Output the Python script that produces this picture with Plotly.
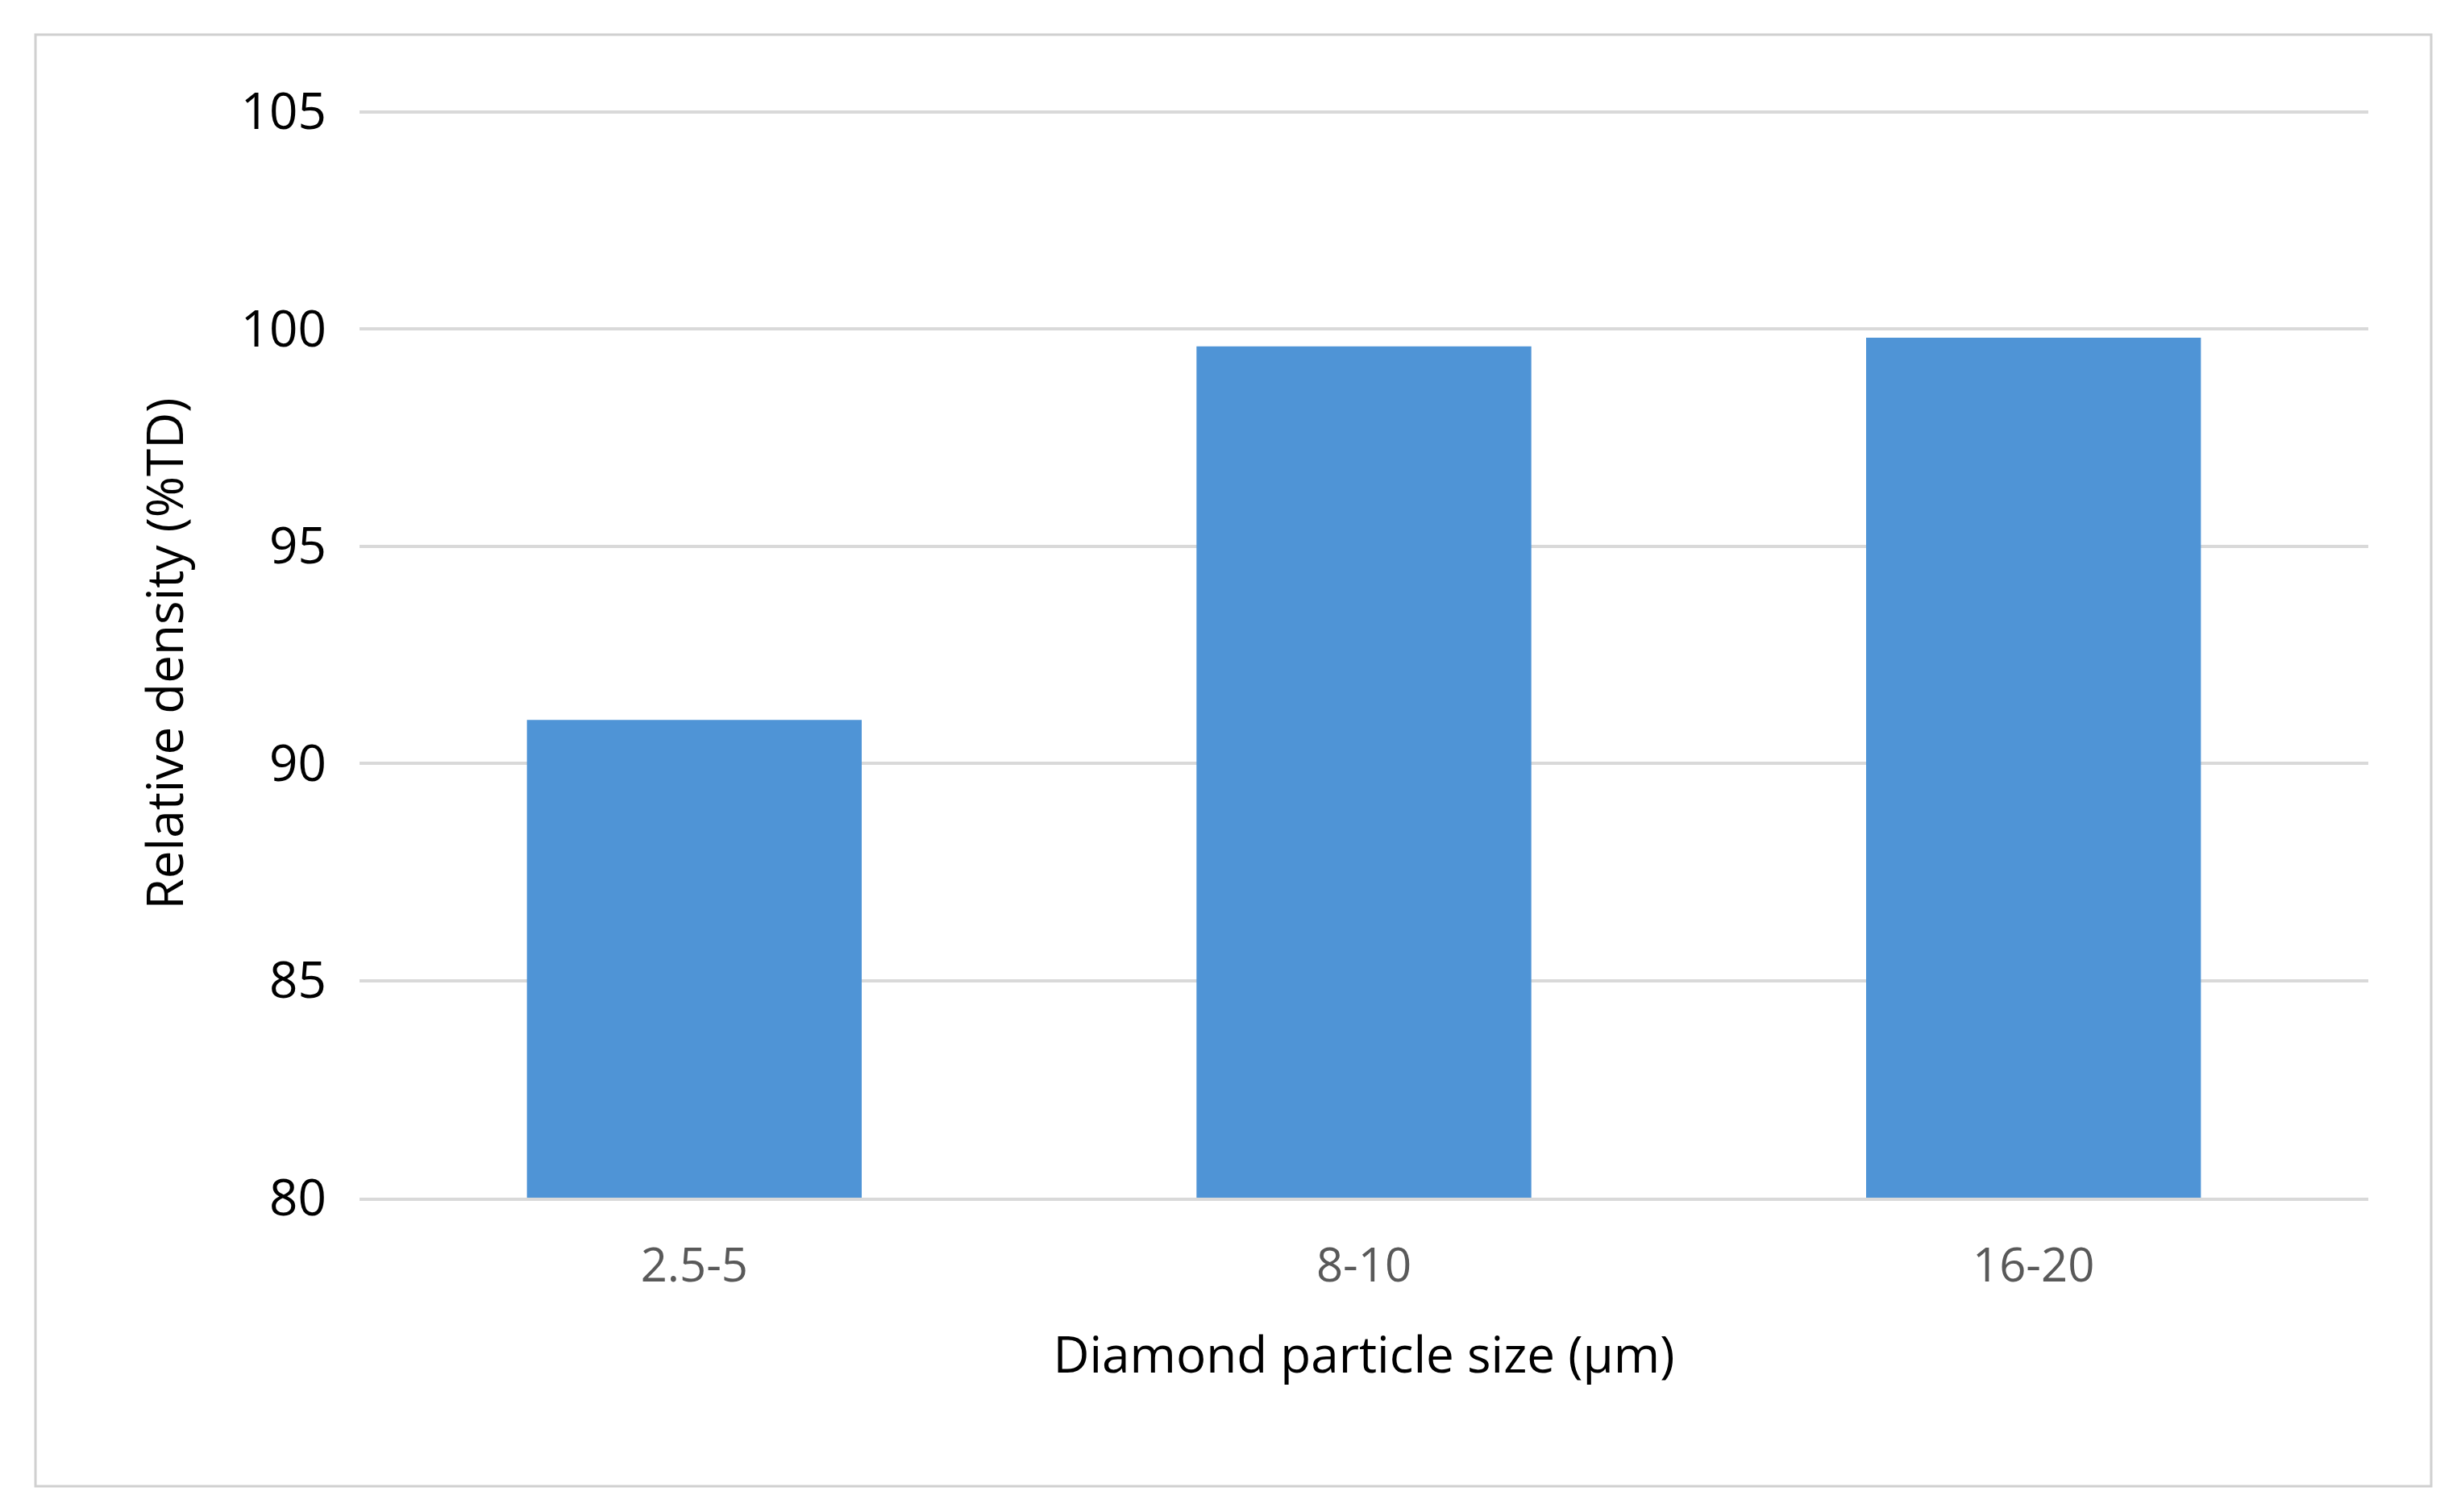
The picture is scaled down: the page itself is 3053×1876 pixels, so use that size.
import plotly.graph_objects as go

# Data
categories = ["2.5-5", "8-10", "16-20"]
relative_density = [91.0, 99.6, 99.8]
y_ticks = [80, 85, 90, 95, 100, 105]

W, H = 3053, 1876

fig = go.Figure()
fig.add_trace(
    go.Bar(
        x=categories,
        y=relative_density,
        width=0.5,
        marker=dict(color="#4f94d6", line=dict(width=0)),
    )
)

fig.update_layout(
    width=W,
    height=H,
    paper_bgcolor="white",
    plot_bgcolor="white",
    margin=dict(l=438, r=W - 2930, t=128, b=H - 1478),
    font=dict(family="Open Sans", color="#000000"),
    showlegend=False,
    bargap=0.5,
    shapes=[
        dict(
            type="rect", xref="paper", yref="paper",
            x0=-402 / 2492, x1=(3008 - 438) / 2492,
            y0=-(1836 - 1478) / 1350, y1=(1478 - 35) / 1350,
            line=dict(color="#d0d0d0", width=3),
        )
    ],
)

fig.update_xaxes(
    tickfont=dict(size=58, color="#595959"),
    title=dict(text="Diamond particle size (µm)", font=dict(size=62), standoff=55),
    showline=True, linecolor="#d9d9d9", linewidth=4,
    ticks="", ticklabelstandoff=30,
)
fig.update_yaxes(
    range=[80, 105.05],
    tickvals=y_ticks,
    tickfont=dict(size=62, color="#000000"),
    title=dict(text="Relative density (%TD)", font=dict(size=62), standoff=50),
    showgrid=True, gridcolor="#d9d9d9", gridwidth=4,
    zeroline=False, ticks="", ticklabelstandoff=40,
)

fig.write_html("out.html")
